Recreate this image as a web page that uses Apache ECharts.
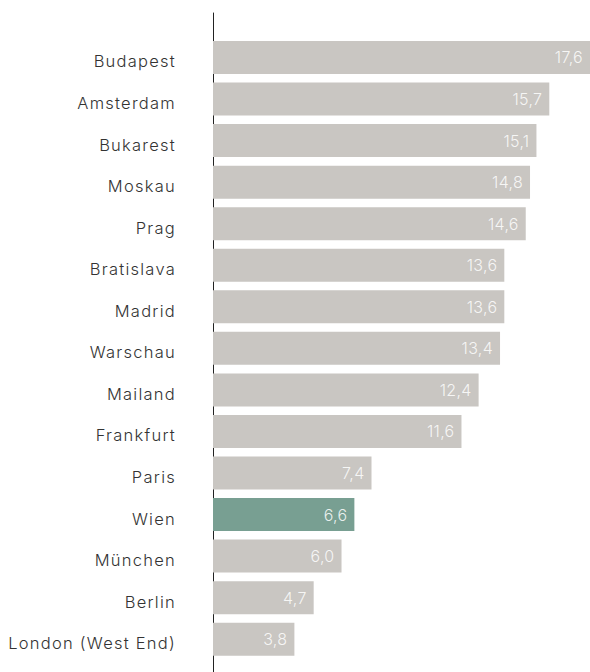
<!DOCTYPE html>
<html>
<head>
<meta charset="utf-8">
<script src="https://cdn.jsdelivr.net/npm/echarts@6/dist/echarts.min.js"></script>
<style>
  html, body { margin: 0; padding: 0; background: #fff; }
  #chart { width: 590px; height: 672px; }
  #chart text { letter-spacing: 1.25px; }
  #chart text[fill-opacity] { letter-spacing: 0.3px; }
</style>
</head>
<body>
<div id="chart"></div>
<script>
const categories = ["Budapest", "Amsterdam", "Bukarest", "Moskau", "Prag", "Bratislava", "Madrid", "Warschau", "Mailand", "Frankfurt", "Paris", "Wien", "München", "Berlin", "London (West End)"];
const values = [17.6, 15.7, 15.1, 14.8, 14.6, 13.6, 13.6, 13.4, 12.4, 11.6, 7.4, 6.6, 6.0, 4.7, 3.8];
const highlight = "Wien";

const GREY = "#c9c6c2";
const GREEN = "#789f92";

const chart = echarts.init(document.getElementById('chart'), null, { renderer: 'svg' });
chart.setOption({
  animation: false,
  grid: [
    { left: 213, right: 0, top: 36.7, bottom: 12, containLabel: false },
    { left: 213, right: 0, top: 13, bottom: 0, containLabel: false }
  ],
  xAxis: [
    { type: 'value', gridIndex: 0, min: 0, max: 17.6, show: false },
    { type: 'value', gridIndex: 1, min: 0, max: 1, show: false }
  ],
  yAxis: [
    {
      type: 'category', gridIndex: 0, data: categories, inverse: true,
      axisLine: { show: false }, axisTick: { show: false },
      axisLabel: {
        margin: 37, fontFamily: 'Inter', fontSize: 16.5, fontWeight: 300, color: '#333',
        verticalAlign: 'top', lineHeight: 8
      }
    },
    {
      type: 'value', gridIndex: 1, min: 0, max: 1,
      axisLine: { show: true, lineStyle: { color: '#222', width: 1 } },
      axisTick: { show: false }, axisLabel: { show: false }, splitLine: { show: false }
    }
  ],
  series: [{
    type: 'bar',
    xAxisIndex: 0, yAxisIndex: 0,
    barWidth: 33,
    data: values.map((v, i) => ({ value: v, itemStyle: { color: categories[i] === highlight ? GREEN : GREY } })),
    label: {
      show: true, position: 'insideRight', distance: 7,
      fontFamily: 'Inter', fontSize: 16, fontWeight: 300,
      color: 'rgba(255,255,255,0.85)',
      formatter: p => p.value.toFixed(1).replace('.', ',')
    },
    emphasis: { disabled: true }
  }]
});
</script>
</body>
</html>
